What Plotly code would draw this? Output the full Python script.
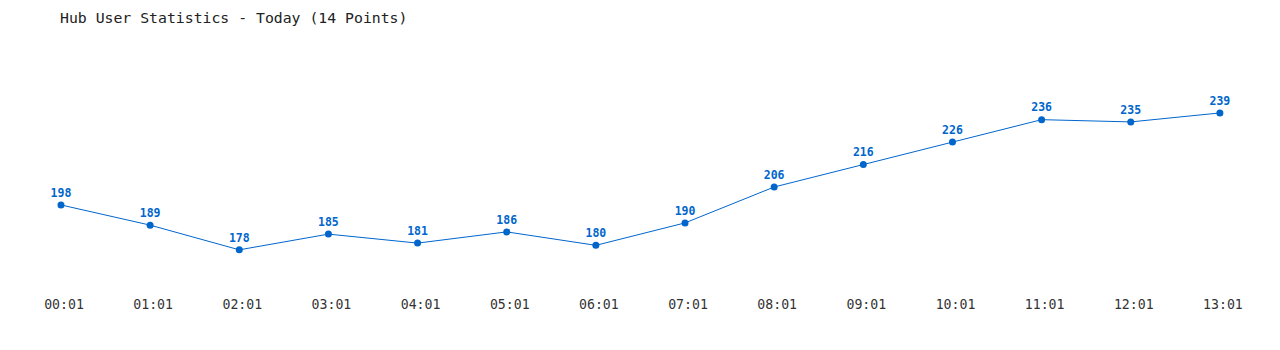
import plotly.graph_objects as go

times = ["00:01", "01:01", "02:01", "03:01", "04:01", "05:01", "06:01",
         "07:01", "08:01", "09:01", "10:01", "11:01", "12:01", "13:01"]
users = [198, 189, 178, 185, 181, 186, 180, 190, 206, 216, 226, 236, 235, 239]

idx = list(range(len(times)))
blue = "#0066cc"
mono = "DejaVu Sans Mono, Liberation Mono, monospace"

fig = go.Figure(go.Scatter(
    x=idx, y=users, mode="lines+markers+text",
    line=dict(color=blue, width=1),
    marker=dict(color=blue, size=7),
    text=[str(v) for v in users], textposition="top center",
    textfont=dict(family=mono, size=11.5, color=blue, weight="bold"),
    hoverinfo="x+y",
))

fig.update_layout(
    width=1280, height=350,
    margin=dict(l=0, r=0, t=40, b=60),
    paper_bgcolor="white", plot_bgcolor="white",
    showlegend=False,
    title=dict(text="Hub User Statistics - Today (14 Points)", x=60/1280, xanchor="left",
               y=1 - 18/350, yanchor="middle",
               font=dict(family=mono, size=14.8, color="#222222")),
    xaxis=dict(range=[-0.684, 13.674], tickmode="array", tickvals=idx, ticktext=times,
               showgrid=False, zeroline=False, showline=False, ticks="",
               ticklabelstandoff=5, ticklabelshift=3,
               tickfont=dict(family=mono, size=13.2, color="#333333")),
    yaxis=dict(range=[160.1, 271.5], showgrid=False, zeroline=False, showline=False,
               showticklabels=False),
)

fig.write_html("out.html")
